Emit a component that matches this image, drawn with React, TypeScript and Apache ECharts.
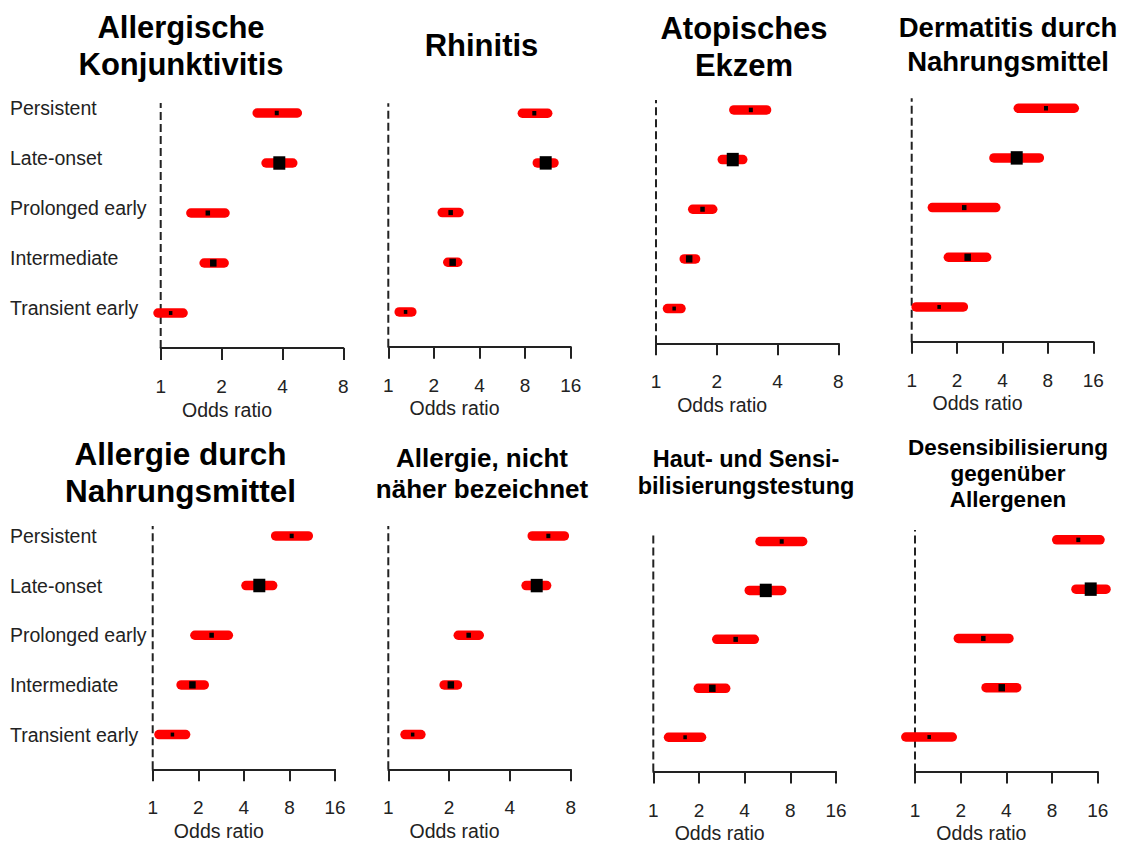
import React, { useEffect, useRef } from "react";
import * as echarts from "echarts";

// Row order (bottom to top)
const rowNames = ["Transient early", "Intermediate", "Prolonged early", "Late-onset", "Persistent"];
const rowPos = [1, 2, 3, 4, 5];
const boxSizes = [3.5, 6.5, 4.5, 12, 4];

const panelTitles = [
  "Allergische\nKonjunktivitis",
  "Rhinitis",
  "Atopisches\nEkzem",
  "Dermatitis durch\nNahrungsmittel",
  "Allergie durch\nNahrungsmittel",
  "Allergie, nicht\nnäher bezeichnet",
  "Haut- und Sensi-\nbilisierungstestung",
  "Desensibilisierung\ngegenüber\nAllergenen",
];

const xMaxes = [8, 16, 8, 16, 16, 8, 16, 16];

// Odds ratios and 95% CI, ordered Transient early .. Persistent
const orKonj = [1.12, 1.82, 1.71, 3.86, 3.75];
const loKonj = [0.97, 1.64, 1.41, 3.32, 3.0];
const hiKonj = [1.29, 2.06, 2.08, 4.5, 4.74];

const orRhin = [1.3, 2.66, 2.58, 10.94, 9.2];
const loRhin = [1.18, 2.47, 2.27, 9.63, 7.67];
const hiRhin = [1.43, 2.87, 2.93, 12.41, 11.28];

const orEkz = [1.23, 1.46, 1.7, 2.4, 2.95];
const loEkz = [1.14, 1.38, 1.52, 2.13, 2.43];
const hiEkz = [1.33, 1.57, 1.91, 2.69, 3.53];

const orDerm = [1.52, 2.35, 2.23, 4.97, 7.77];
const loDerm = [1.07, 1.75, 1.37, 3.51, 5.09];
const hiDerm = [2.2, 3.14, 3.61, 7.02, 11.97];

const orNahr = [1.35, 1.83, 2.45, 5.06, 8.28];
const loNahr = [1.1, 1.54, 1.9, 4.13, 6.49];
const hiNahr = [1.65, 2.19, 3.16, 6.2, 10.66];

const orNnb = [1.32, 2.04, 2.5, 5.43, 6.2];
const loNnb = [1.21, 1.89, 2.22, 4.81, 5.16];
const hiNnb = [1.45, 2.2, 2.82, 6.08, 7.44];

const orHaut = [1.62, 2.45, 3.49, 5.51, 7.02];
const loHaut = [1.26, 1.98, 2.62, 4.29, 5.05];
const hiHaut = [2.08, 3.0, 4.63, 7.02, 9.65];

const orDes = [1.24, 3.73, 2.82, 14.39, 11.92];
const loDes = [0.87, 2.94, 1.93, 11.51, 8.59];
const hiDes = [1.76, 4.68, 4.16, 18.15, 16.57];

const panelOr = [orKonj, orRhin, orEkz, orDerm, orNahr, orNnb, orHaut, orDes];
const panelLo = [loKonj, loRhin, loEkz, loDerm, loNahr, loNnb, loHaut, loDes];
const panelHi = [hiKonj, hiRhin, hiEkz, hiDerm, hiNahr, hiNnb, hiHaut, hiDes];

// Layout (pixels)
const grids = [
  { left: 160.7, top: 103, width: 182.6, bottom: 348 },
  { left: 388.3, top: 103.3, width: 182.4, bottom: 346.7 },
  { left: 656, top: 100, width: 182.3, bottom: 343.3 },
  { left: 911.7, top: 98.3, width: 181.6, bottom: 341.7 },
  { left: 152.7, top: 526, width: 182.3, bottom: 769.3 },
  { left: 388.3, top: 526, width: 182.4, bottom: 769.3 },
  { left: 653.3, top: 531.7, width: 182.7, bottom: 776 },
  { left: 915, top: 530, width: 182.7, bottom: 776 },
];
const titleLayout = [
  { x: 181, y: 45.8, size: 31, lh: 37.3 },
  { x: 481.5, y: 45, size: 31, lh: 37 },
  { x: 744, y: 46.5, size: 31, lh: 37 },
  { x: 1008, y: 44.3, size: 27.5, lh: 33.5 },
  { x: 180.5, y: 472.5, size: 31.5, lh: 37 },
  { x: 482, y: 473.5, size: 26, lh: 31 },
  { x: 746, y: 472.3, size: 23.5, lh: 26.5 },
  { x: 1008, y: 473.7, size: 22.5, lh: 26.3 },
];
// panels that carry the row labels -> upward shift of the labels (px)
const yLabelPanels: Record<number, number> = { 0: 5.5, 4: 0 };

const FONT = "'Liberation Sans', Arial, Helvetica, sans-serif";
const Y_MIN = 0.3;
const Y_MAX = 5.2;

function buildOption() {
  const grid: any[] = [];
  const xAxis: any[] = [];
  const yAxis: any[] = [];
  const series: any[] = [];
  const graphic: any[] = [];

  for (let i = 0; i < 8; i++) {
    const g = grids[i];
    grid.push({
      left: g.left,
      top: g.top,
      width: g.width,
      height: g.bottom - g.top,
      containLabel: false,
    });
    xAxis.push({
      type: "log",
      logBase: 2,
      gridIndex: i,
      min: 1,
      max: xMaxes[i],
      position: "bottom",
      splitLine: { show: false },
      axisLine: { show: true, onZero: false, lineStyle: { color: "#222", width: 2 } },
      axisTick: { show: true, inside: false, length: 12, lineStyle: { color: "#222", width: 2 } },
      axisLabel: {
        show: true,
        margin: 29,
        color: "#222",
        fontSize: 19,
        fontFamily: FONT,
        formatter: (v: number) => String(Math.round(v)),
      },
      name: "Odds ratio",
      nameLocation: "middle",
      nameGap: 51.5,
      nameTextStyle: {
        color: "#222",
        fontSize: 19.5,
        fontFamily: FONT,
        padding: [0, 50, 0, 0],
      },
    });
    const hasLabels = i in yLabelPanels;
    const shift = yLabelPanels[i] || 0;
    yAxis.push({
      type: "value",
      gridIndex: i,
      min: Y_MIN,
      max: Y_MAX,
      splitLine: { show: false },
      axisLine: { show: false },
      axisTick: { show: false },
      axisLabel: hasLabels
        ? {
            show: true,
            customValues: rowPos,
            formatter: (v: number) => rowNames[Math.round(v) - 1] ?? "",
            align: "left",
            verticalAlign: "bottom",
            lineHeight: 2 * shift,
            margin: g.left - 10,
            color: "#222",
            fontSize: 19.5,
            fontFamily: FONT,
          }
        : { show: false },
    });

    // reference line at OR = 1
    series.push({
      type: "line",
      xAxisIndex: i,
      yAxisIndex: i,
      data: [
        [1, Y_MIN],
        [1, Y_MAX],
      ],
      symbol: "none",
      silent: true,
      lineStyle: { color: "#222", width: 2, type: [8, 4] },
      z: 1,
    });

    const data = rowPos.map((y, k) => [panelLo[i][k], panelHi[i][k], panelOr[i][k], y, boxSizes[k]]);
    series.push({
      type: "custom",
      xAxisIndex: i,
      yAxisIndex: i,
      clip: false,
      z: 3,
      encode: { x: [0, 1, 2], y: 3 },
      data,
      renderItem: (params: any, api: any) => {
        const lo = api.value(0);
        const hi = api.value(1);
        const or = api.value(2);
        const y = api.value(3);
        const s = api.value(4);
        const p1 = api.coord([lo, y]);
        const p2 = api.coord([hi, y]);
        const pc = api.coord([or, y]);
        const h = s * 1.12;
        return {
          type: "group",
          children: [
            {
              type: "line",
              shape: { x1: p1[0], y1: p1[1], x2: p2[0], y2: p2[1] },
              style: { stroke: "#ff0000", lineWidth: 9.5, lineCap: "round" },
            },
            {
              type: "rect",
              shape: { x: pc[0] - s / 2, y: pc[1] - h / 2, width: s, height: h },
              style: { fill: "#000" },
            },
          ],
        };
      },
    });

    const t = titleLayout[i];
    graphic.push({
      type: "text",
      x: t.x,
      y: t.y,
      silent: true,
      style: {
        text: panelTitles[i],
        fill: "#000",
        fontSize: t.size,
        fontWeight: "bold",
        fontFamily: FONT,
        lineHeight: t.lh,
        align: "center",
        verticalAlign: "middle",
      },
    });
  }

  return {
    animation: false,
    backgroundColor: "#ffffff",
    grid,
    xAxis,
    yAxis,
    series,
    graphic,
  };
}

export default function App() {
  const ref = useRef<HTMLDivElement>(null);
  useEffect(() => {
    document.body.style.margin = "0";
    if (!ref.current) return;
    const chart = echarts.init(ref.current, undefined, { renderer: "svg" });
    chart.setOption(buildOption() as any);
    return () => chart.dispose();
  }, []);
  return <div ref={ref} style={{ width: 1126, height: 844, background: "#fff" }} />;
}
